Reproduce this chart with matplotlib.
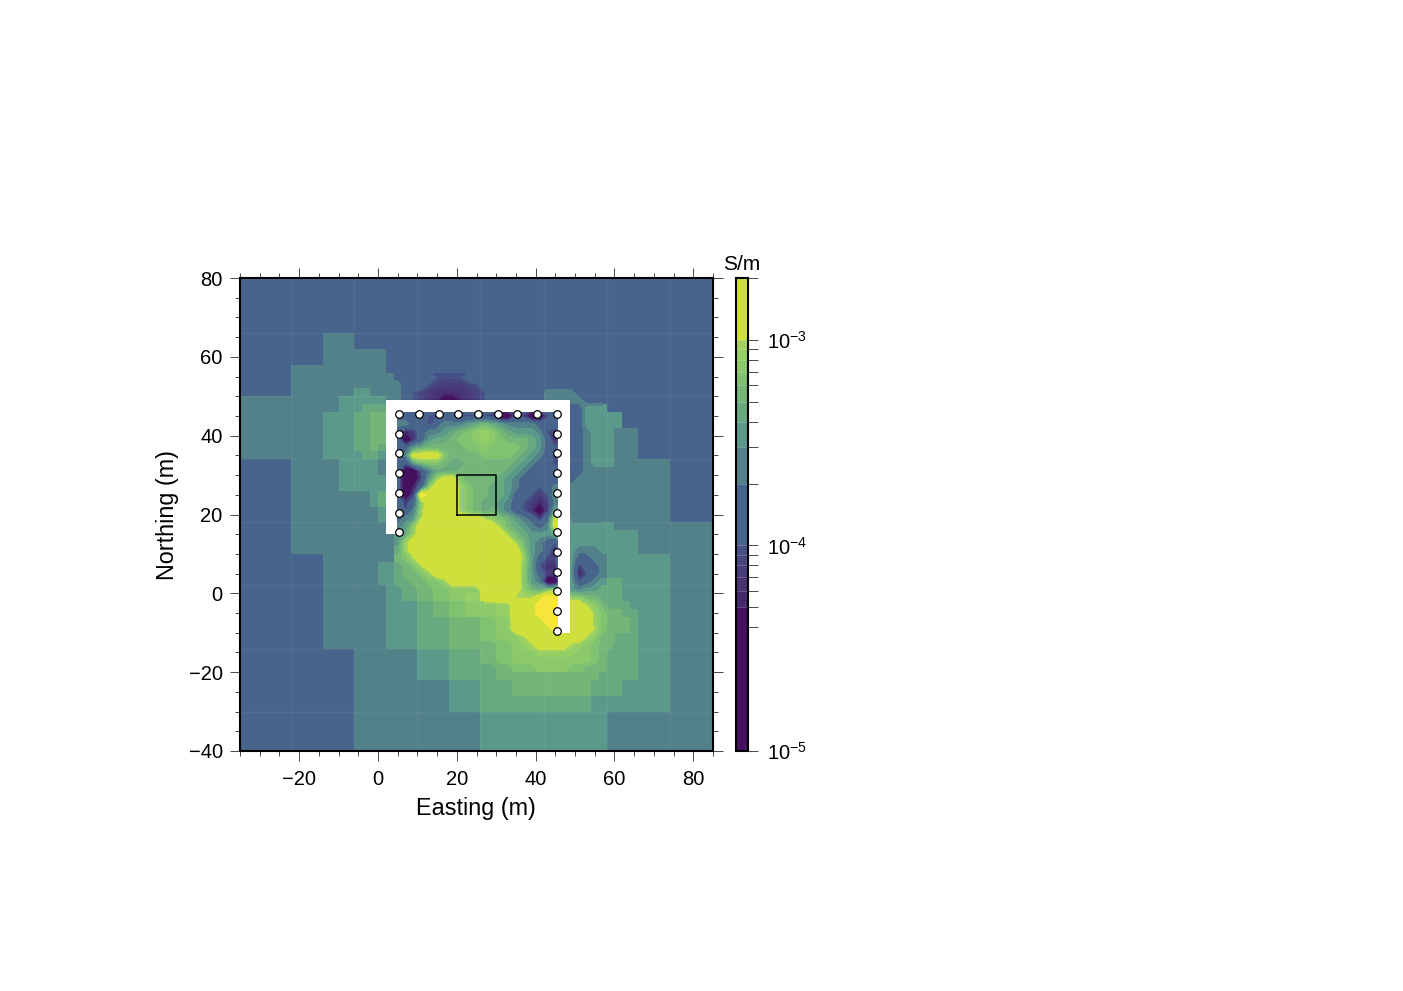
import matplotlib
matplotlib.use('Agg')
import matplotlib.pyplot as plt
from matplotlib.colors import BoundaryNorm, ListedColormap
import numpy as np

plt.rcParams['font.family'] = ['Liberation Sans', 'DejaVu Sans']
plt.rcParams['mathtext.fontset'] = 'custom'
plt.rcParams['mathtext.rm'] = 'Liberation Sans'
plt.rcParams['mathtext.default'] = 'regular'

# conductivity classes (S/m)
class_bounds = [1e-5, 5e-5, 6e-5, 7e-5, 8e-5, 9e-5, 1e-4, 2e-4, 3e-4, 4e-4, 5e-4,
                6e-4, 7e-4, 8e-4, 9e-4, 1e-3, 2e-3]
class_colors = ['#45105f', '#46286e', '#473274', '#473b7a', '#474580', '#474f87',
                '#47658c', '#52818a', '#5b9a8a', '#68a97f', '#73b677', '#7fc26f',
                '#8bc96a', '#96cf64', '#a3d25e', '#cfe03c']
over_color = '#f8e53a'
class_codes = '0123456789abcdef'

# one row per 2 m of northing, top row is 80..78 m, columns start at -36 m easting
# groups: 7 cells up to -22 m, then 8 m blocks
rows = [
    "6666666 6666 6666 6666 6666 6666 6666 6666 6666 6666 6666 6666 6666 6666 66",
    "6666666 6666 6666 6666 6666 6666 6666 6666 6666 6666 6666 6666 6666 6666 66",
    "6666666 6666 6666 6666 6666 6666 6666 6666 6666 6666 6666 6666 6666 6666 66",
    "6666666 6666 6666 6666 6666 6666 6666 6666 6666 6666 6666 6666 6666 6666 66",
    "6666666 6666 6666 6666 6666 6666 6666 6666 6666 6666 6666 6666 6666 6666 66",
    "6666666 6666 6666 6666 6666 6666 6666 6666 6666 6666 6666 6666 6666 6666 66",
    "6666666 6666 6666 6666 6666 6666 6666 6666 6666 6666 6666 6666 6666 6666 66",
    "6666666 6666 7777 6666 6666 6666 6666 6666 6666 6666 6666 6666 6666 6666 66",
    "6666666 6666 7777 6666 6666 6666 6666 6666 6666 6666 6666 6666 6666 6666 66",
    "6666666 6666 7777 7777 6666 6666 6666 6666 6666 6666 6666 6666 6666 6666 66",
    "6666666 6666 7777 7777 6666 6666 6666 6666 6666 6666 6666 6666 6666 6666 66",
    "6666666 7777 7777 7777 6666 6666 6666 6666 6666 6666 6666 6666 6666 6666 66",
    "6666666 7777 7777 7777 7666 6655 5566 6666 6666 6666 6666 6666 6666 6666 66",
    "6666666 7777 7777 7777 7766 6543 3345 6666 6666 6666 6666 6666 6666 6666 66",
    "6666666 7777 7777 8877 7765 4322 2234 5666 6666 7777 6666 6666 6666 6666 66",
    "7777777 7777 7788 8888 7765 4210 0123 5666 6666 7777 7666 6666 6666 6666 66",
    "7777777 7777 7788 8999 6666 6666 6666 6666 6666 6666 6888 6666 6666 6666 66",
    "7777777 7777 8888 99aa 6665 6556 5355 5300 4300 4666 6888 8866 6666 6666 66",
    "7777777 7777 8888 99aa 6776 6467 7789 a987 7776 6666 6888 8866 6666 6666 66",
    "7777777 7777 8888 99aa 6613 6778 9abc dca9 8887 5266 6788 8777 6666 6666 66",
    "7777777 7777 8888 99aa 6602 6899 abbc dcba aa98 6166 6788 8777 6666 6666 66",
    "7777777 7777 8888 99a9 6668 9aaa aabb cbbb ba98 6566 6788 8777 6666 6666 66",
    "7777777 7777 8888 8998 667f fffb aaaa bbbb a987 6366 6788 8777 6666 6666 66",
    "6666666 7777 7788 8887 6658 abba 99aa aaaa 9876 6466 6788 8777 7777 6666 66",
    "6666666 7777 7788 8887 6600 5799 9aaa aaa9 8766 6666 6777 7777 7777 6666 66",
    "6666666 7777 7788 8888 6600 48df fbaa aa98 7666 6666 7777 7777 7777 6666 66",
    "6666666 7777 7788 8888 6601 6cff fdba a998 7665 6777 7777 7777 7777 6666 66",
    "6666666 7777 7777 7789 6603 gfff fdba a998 6653 5877 7777 7777 7777 6666 66",
    "6666666 7777 7777 7789 6636 cfff fdba 9987 6531 3777 7777 7777 7777 6666 66",
    "6666666 7777 7777 7778 6657 dfff fdba 9a87 6520 3977 7777 7777 7777 6666 66",
    "6666666 7777 7777 7778 6678 efff ffff ecba 8763 6fg7 7777 7777 7777 6666 66",
    "6666666 7777 7777 7777 778c ffff ffff ffda 9876 7f88 8888 8777 7777 7777 77",
    "6666666 7777 7777 7777 789d ffff ffff fffd a988 8988 8888 8888 7777 7777 77",
    "6666666 7777 7777 7777 78df ffff ffff ffff da87 6588 8888 8888 7777 7777 77",
    "6666666 7777 7777 7777 79df ffff ffff ffff fb87 6188 7778 8888 7777 7777 77",
    "6666666 6666 7777 7777 7abe ffff ffff ffff fd86 4488 6677 8888 8888 7777 77",
    "6666666 6666 7777 7778 89ab efff ffff ffff fc85 2288 3667 8888 8888 7777 77",
    "6666666 6666 7777 7778 89aa bdff ffff ffff fc86 3388 1567 8888 8888 7777 77",
    "6666666 6666 7777 7778 899a abbd ffff ffff fc87 0088 5678 9988 8888 7777 77",
    "6666666 6666 7777 7777 8899 aabb cccc ffff fca9 ac88 7889 9988 8888 7777 77",
    "6666666 6666 7777 7777 8899 aabb ccdd ffff eeef gggc caa9 9988 8888 7777 77",
    "6666666 6666 7777 7777 8888 99aa bbcc ccdd fffg gggf feca 9998 8888 7777 77",
    "6666666 6666 7777 7777 8888 99aa bbcc ccdd fffg gggf ffdb aa99 8888 7777 77",
    "6666666 6666 7777 7777 8888 9999 aaaa bbcc ffff gggf ffdb aaa9 8888 7777 77",
    "6666666 6666 7777 7777 8888 9999 aaaa bbcc ffff fggf ffeb aaa9 8888 7777 77",
    "6666666 6666 7777 7777 8888 9999 aaaa bbcc ceff ffff feca a999 8888 7777 77",
    "6666666 6666 7777 7777 8888 9999 aaaa aabb cdef fffe dcba a999 8888 7777 77",
    "6666666 6666 6666 7777 7777 8888 9999 aabb cccd dddd ccba 9999 8888 7777 77",
    "6666666 6666 6666 7777 7777 8888 9999 aabb cccc cccc ccba 9999 8888 7777 77",
    "6666666 6666 6666 7777 7777 8888 9999 99aa bbbc cccb baaa 9999 8888 7777 77",
    "6666666 6666 6666 7777 7777 8888 9999 99aa aaaa aaaa aaa9 9999 8888 7777 77",
    "6666666 6666 6666 7777 7777 7777 8888 9999 aaaa aaaa aa99 9988 8888 7777 77",
    "6666666 6666 6666 7777 7777 7777 8888 9999 aaaa aaaa aa99 9988 8888 7777 77",
    "6666666 6666 6666 7777 7777 7777 8888 9999 9999 9999 9988 8888 8888 7777 77",
    "6666666 6666 6666 7777 7777 7777 8888 9999 9999 9999 9988 8888 8888 7777 77",
    "6666666 6666 6666 7777 7777 7777 7777 8888 8888 8888 8888 7777 7777 7777 77",
    "6666666 6666 6666 7777 7777 7777 7777 8888 8888 8888 8888 7777 7777 7777 77",
    "6666666 6666 6666 7777 7777 7777 7777 8888 8888 8888 8888 7777 7777 7777 77",
    "6666666 6666 6666 7777 7777 7777 7777 8888 8888 8888 8888 7777 7777 7777 77",
    "6666666 6666 6666 7777 7777 7777 7777 8888 8888 8888 8888 7777 7777 7777 77",
]

# coarse mesh lines that show faintly through the model
mesh_x = [-22, -6, 10, 26, 42, 58, 74]
mesh_y = [66, 50, 34, 18, 2, -14, -30]

# tunnel outline (left wall, top, right wall)
tunnel_x = [2, 48.7, 48.7, 45.7, 45.7, 4.9, 4.9, 2]
tunnel_y = [49, 49, -10, -10, 46, 46, 15, 15]

# electrodes along the tunnel
station_x = [5.3, 5.3, 5.3, 5.3, 5.3, 5.3, 5.3, 10.4, 15.4, 20.4, 25.4, 30.4, 35.4, 40.4,
             45.4, 45.4, 45.4, 45.4, 45.4, 45.4, 45.4, 45.4, 45.4, 45.4, 45.4, 45.4]
station_y = [15.5, 20.5, 25.5, 30.5, 35.5, 40.5, 45.5, 45.5, 45.5, 45.5, 45.5, 45.5, 45.5, 45.5,
             45.5, 40.5, 35.5, 30.5, 25.5, 20.5, 15.5, 10.5, 5.5, 0.5, -4.5, -9.5]

# target block
block_x = [20, 30, 30, 20, 20]
block_y = [20, 20, 30, 30, 20]

# representative value per class
class_values = {c: np.sqrt(class_bounds[i] * class_bounds[i + 1]) for i, c in enumerate(class_codes)}
class_values['g'] = 3e-3
sigma = np.array([[class_values[c] for c in r.replace(' ', '')] for r in rows])

cmap = ListedColormap(class_colors)
cmap.set_over(over_color)
norm = BoundaryNorm(class_bounds, cmap.N)

W, H = 1403, 991
fig = plt.figure(figsize=(W / 100, H / 100), dpi=100)
ax = fig.add_axes([240 / W, (H - 751) / H, 473 / W, 473 / H])

x_edges = np.arange(-36, 88, 2)
y_edges = np.arange(80, -42, -2)
ax.pcolormesh(x_edges, y_edges, sigma, cmap=cmap, norm=norm, shading='flat')

# the finely meshed part around the tunnel has smooth class limits, contour it
xc, yc = np.meshgrid(x_edges[:-1] + 1, y_edges[:-1] - 1)
fine = ((xc > 4) & (xc < 58) & (yc > 0) & (yc < 56)) | ((xc > 26) & (xc < 62) & (yc > -20) & (yc <= 2))
ax.contourf(xc, yc, np.ma.masked_where(~fine, np.log10(sigma)), levels=np.log10(class_bounds),
            colors=class_colors + [over_color], extend='max')

for v in mesh_x:
    ax.axvline(v, color='white', alpha=0.05, lw=0.9)
for v in mesh_y:
    ax.axhline(v, color='white', alpha=0.05, lw=0.9)

ax.fill(tunnel_x, tunnel_y, color='white', lw=0, zorder=3)
ax.plot(block_x, block_y, color='black', lw=1.1, zorder=4)
ax.scatter(station_x, station_y, s=30, facecolor='white', edgecolor='black', linewidth=0.9, zorder=5)

ax.set_xlim(-35, 85)
ax.set_ylim(-40, 80)
ax.set_xticks(np.arange(-20, 81, 20))
ax.set_yticks(np.arange(-40, 81, 20))
ax.set_xticks(np.arange(-35, 86, 5), minor=True)
ax.set_yticks(np.arange(-40, 81, 5), minor=True)
ax.tick_params(axis='x', which='major', length=7.5, width=0.5, top=True, labelsize=14.5, pad=6)
ax.tick_params(axis='y', which='major', length=7.5, width=0.5, right=True, labelsize=14.5, pad=5)
ax.tick_params(which='minor', length=3.6, width=0.5, top=True, right=True)
ax.xaxis.set_major_formatter(lambda v, p: f'{v:.0f}'.replace('-', '\u2212'))
ax.yaxis.set_major_formatter(lambda v, p: f'{v:.0f}'.replace('-', '\u2212'))
for s in ax.spines.values():
    s.set_linewidth(1.5)
ax.set_xlabel('Easting (m)', fontsize=16.8, va='center')
ax.xaxis.set_label_coords(0.499, -0.122)
ax.set_ylabel('Northing (m)', fontsize=16.8, va='center')
ax.yaxis.set_label_coords(-0.154, 0.5)

# colour bar on a log axis
cax = fig.add_axes([736 / W, (H - 751) / H, 12 / W, 473 / H])
cax.pcolormesh([0, 1], class_bounds, np.array(list(class_values.values())[:-1]).reshape(-1, 1),
               cmap=cmap, norm=norm, shading='flat')
cax.set_yscale('log')
cax.set_ylim(1e-5, 2e-3)
cax.set_xticks([])
cax.yaxis.tick_right()
cax.set_yticks([1e-5, 1e-4, 1e-3])
cax.set_yticklabels(['$10^{-5}$', '$10^{-4}$', '$10^{-3}$'])
cax.set_yticks(class_bounds[1:6] + [4e-5] + class_bounds[7:15] + [2e-3], minor=True)
cax.set_yticklabels([], minor=True)
cax.tick_params(which='both', axis='y', length=7.5, width=0.5, labelsize=14.5, pad=6)
for b in class_bounds[1:-1]:
    cax.axhline(b, color='white', alpha=0.25, lw=0.6)
for s in cax.spines.values():
    s.set_linewidth(1.5)
fig.text(742 / W, (H - 265) / H, 'S/m', ha='center', va='center', fontsize=15)

fig.savefig('out.png', dpi=100)
